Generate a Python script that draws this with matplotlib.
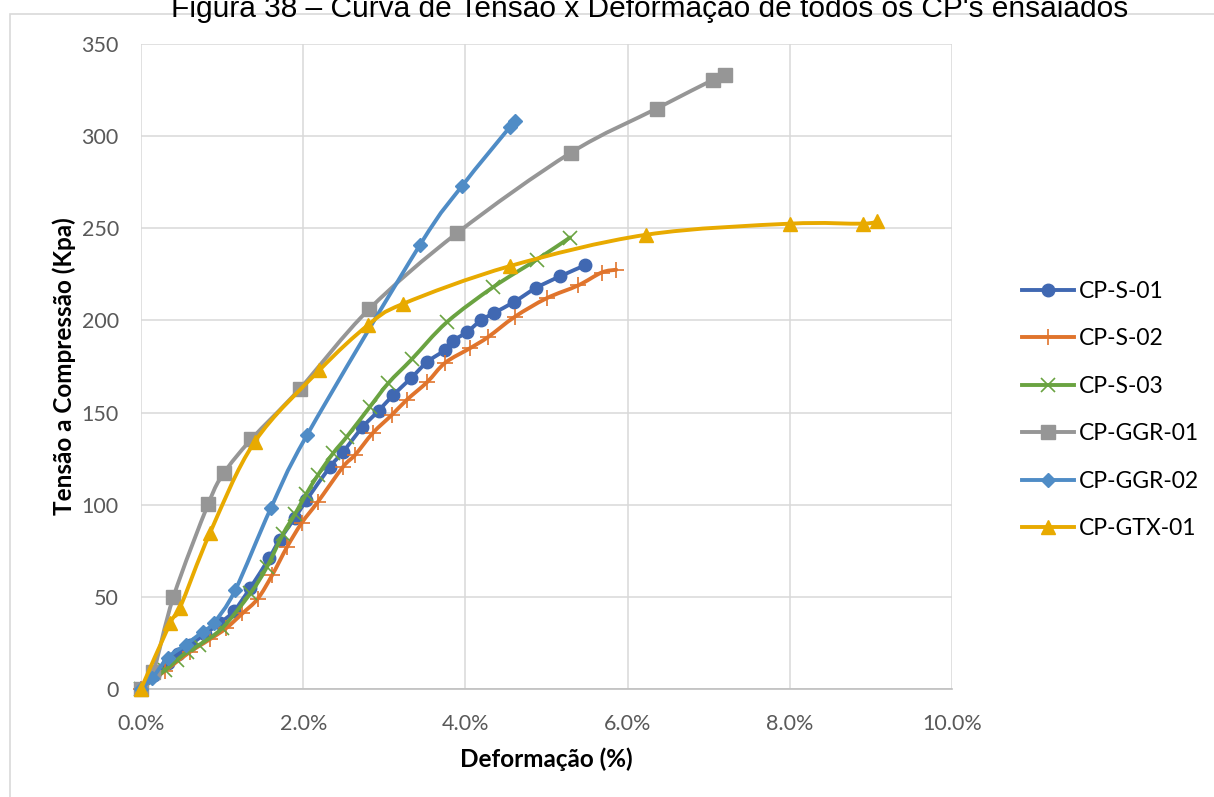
import numpy as np
import matplotlib
matplotlib.use("Agg")
import matplotlib.pyplot as plt
from matplotlib.path import Path
from matplotlib.patches import PathPatch, Rectangle
from matplotlib.lines import Line2D

plt.rcParams['font.family'] = ['Lato', 'DejaVu Sans']

# deformacao (%) / tensao (kPa)
s01_x = [0, 0.16, 0.33, 0.46, 0.61, 0.79, 0.98, 1.15, 1.35, 1.58, 1.71, 1.9, 2.04, 2.33, 2.49,
         2.73, 2.93, 3.11, 3.33, 3.53, 3.75, 3.85, 4.02, 4.19, 4.35, 4.6, 4.87, 5.17, 5.48]
s01_y = [0, 7.6, 14, 19, 24, 30, 36, 42.5, 55, 71, 81, 93, 102.5, 120.5, 128.6,
         142, 151, 159.5, 168.7, 177.5, 184, 189, 193.7, 200, 204, 210, 217.6, 224, 230]

s02_x = [0, 0.3, 0.6, 0.85, 1.05, 1.25, 1.44, 1.62, 1.8, 1.98, 2.18, 2.49, 2.64, 2.86, 3.09,
         3.28, 3.53, 3.75, 4.06, 4.28, 4.61, 5.0, 5.39, 5.68, 5.86]
s02_y = [0, 10, 20, 27, 33, 41, 49, 62, 77, 90, 101.5, 120.5, 127, 139, 148.6,
         157, 166.6, 177, 185, 191, 202, 212, 219, 226, 227.5]

s03_x = [0, 0.3, 0.45, 0.57, 0.72, 1.0, 1.35, 1.55, 1.75, 1.9, 2.04, 2.18, 2.37, 2.54, 2.82,
         3.05, 3.34, 3.77, 4.34, 4.88, 5.29]
s03_y = [0, 10.3, 16, 20, 24, 33, 52, 66, 84, 95, 106, 116, 128, 137, 153,
         166, 179, 199, 218, 233, 245]

ggr01_x = [0, 0.15, 0.4, 0.83, 1.02, 1.36, 1.96, 2.81, 3.9, 5.3, 6.36, 7.05, 7.2]
ggr01_y = [0, 9, 50, 100.5, 117, 135.5, 163, 206, 247.5, 291, 315, 330.5, 333]

ggr02_x = [0, 0.14, 0.33, 0.55, 0.76, 0.9, 1.16, 1.6, 2.05, 3.44, 3.96, 4.55, 4.61]
ggr02_y = [0, 6, 17, 24, 31, 36, 53.5, 98, 138, 241, 273, 305, 308]

gtx01_x = [0, 0.36, 0.48, 0.85, 1.4, 2.2, 2.8, 3.23, 4.55, 6.23, 8.0, 8.9, 9.08]
gtx01_y = [0, 35.8, 44, 84.6, 134, 173, 197.5, 209, 229.5, 246.5, 252.5, 252.5, 254]

series = [
    ("CP-S-01", s01_x, s01_y, '#4068B2', 'o', 9, 1),
    ("CP-S-02", s02_x, s02_y, '#E0742C', '+', 11, 1.2),
    ("CP-S-03", s03_x, s03_y, '#6AA341', 'x', 9.5, 1.2),
    ("CP-GGR-01", ggr01_x, ggr01_y, '#969696', 's', 9.5, 1),
    ("CP-GGR-02", ggr02_x, ggr02_y, '#4F8CC6', 'D', 7, 1),
    ("CP-GTX-01", gtx01_x, gtx01_y, '#E8AA00', '^', 10.5, 1),
]


def smooth_path(x, y):
    # curva suave tipo Excel (bezier passando pelos pontos)
    pts = np.column_stack([x, y]).astype(float)
    n = len(pts)
    verts = [pts[0]]
    codes = [Path.MOVETO]
    for i in range(n - 1):
        p0 = pts[i - 1] if i > 0 else pts[i]
        p1 = pts[i]
        p2 = pts[i + 1]
        p3 = pts[i + 2] if i + 2 < n else pts[i + 1]
        verts += [p1 + (p2 - p0) / 6, p2 - (p3 - p1) / 6, p2]
        codes += [Path.CURVE4] * 3
    return Path(verts, codes)


fig = plt.figure(figsize=(12.14, 7.97), dpi=100)
ax = fig.add_axes([141 / 1214, 1 - 689 / 797, (952 - 141) / 1214, (689 - 44) / 797])

# moldura do grafico
fig.patches.append(Rectangle((10 / 1214, -0.02), 1.0, 1 - 14 / 797 + 0.02, transform=fig.transFigure,
                             fill=False, edgecolor='#D9D9D9', linewidth=1.2, zorder=0))

handles = []
for i, (name, x, y, c, m, ms, mew) in enumerate(series):
    ax.add_patch(PathPatch(smooth_path(x, y), facecolor='none', edgecolor=c, linewidth=2.8,
                           capstyle='round', joinstyle='round', zorder=3 + i))
    ax.plot(x, y, linestyle='none', marker=m, markersize=ms, color=c, markeredgecolor=c,
            markeredgewidth=mew, zorder=3.5 + i, clip_on=False)
    handles.append(Line2D([], [], color=c, linewidth=2.8, marker=m, markersize=ms,
                          markeredgecolor=c, markeredgewidth=mew))

ax.set_xlim(0, 10)
ax.set_ylim(0, 350)
ax.set_xticks(np.arange(0, 10.1, 2))
ax.set_xticklabels([f"{v:.1f}%" for v in np.arange(0, 10.1, 2)])
ax.set_yticks(np.arange(0, 351, 50))
ax.grid(True, color='#D9D9D9', linewidth=1.1, zorder=0)
ax.set_axisbelow(True)
for s in ['top', 'right', 'left']:
    ax.spines[s].set_visible(False)
ax.spines['bottom'].set_color('#BFBFBF')
ax.spines['bottom'].set_linewidth(1.2)
ax.tick_params(length=0, labelsize=15.5, colors='#595959')
ax.tick_params(axis='x', pad=18)
ax.tick_params(axis='y', pad=16)

ax.set_xlabel("Deformação (%)", fontsize=17.5, fontweight='bold', labelpad=10)
ax.set_ylabel("Tensão a Compressão (Kpa)", fontsize=17.5, fontweight='bold', labelpad=4)

fig.legend(handles, [s[0] for s in series], loc='center left',
           bbox_to_anchor=(1011 / 1214, 1 - 410 / 797), frameon=False, fontsize=16.5,
           handlelength=2.27, handletextpad=0.2, labelspacing=1.16, borderpad=0)

fig.text(650 / 1214, 1 - 17 / 797, "Figura 38 – Curva de Tensão x Deformação de todos os CP's ensaiados",
         ha='center', va='baseline', fontsize=21.5, family='Liberation Sans')

fig.savefig("out.png", dpi=100)
